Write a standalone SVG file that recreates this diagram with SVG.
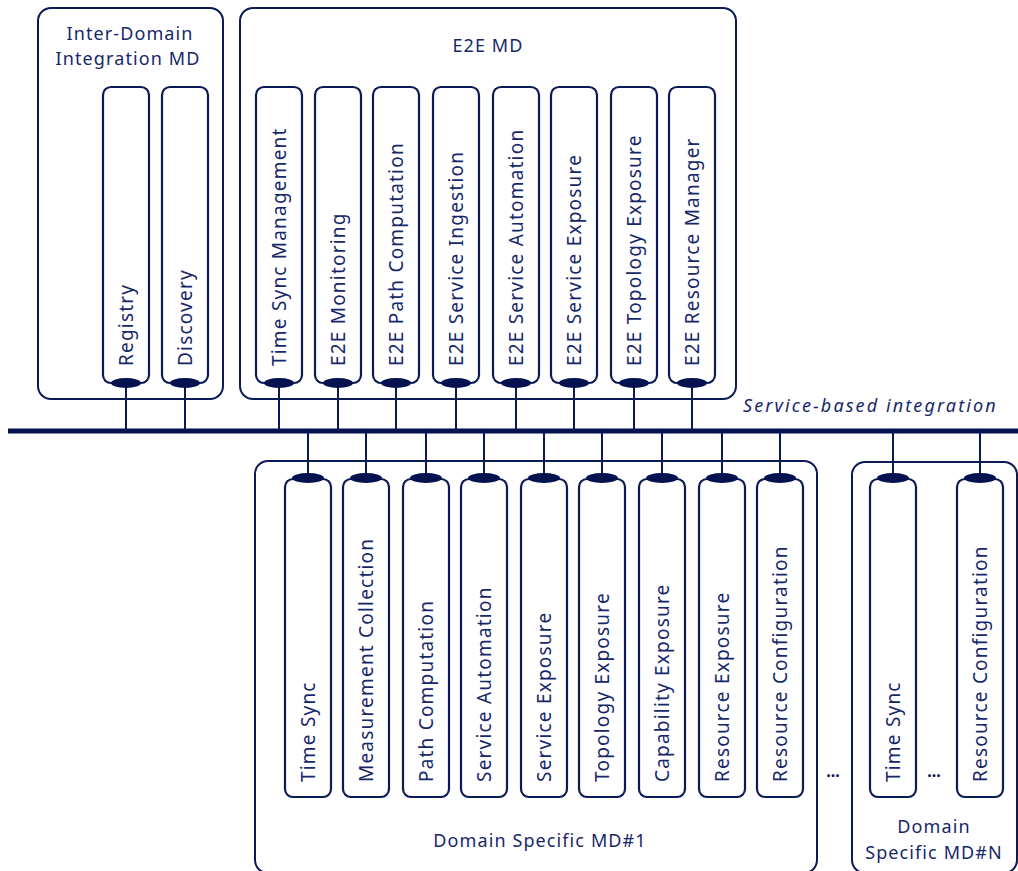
<svg xmlns="http://www.w3.org/2000/svg" width="1018" height="871" viewBox="0 0 1018 871">
  <defs>
    <style>
      .box { fill: none; stroke: #0b1a55; stroke-width: 2; }
      .pill { fill: #ffffff; stroke: #0b1a55; stroke-width: 2.2; }
      .port { fill: #04124f; stroke: none; }
      .wire { stroke: #0b1a55; stroke-width: 2; fill: none; }
      .bus { stroke: #04124f; stroke-width: 5; fill: none; }
      .lbl { font-family: "Noto Sans", "Open Sans", sans-serif; font-size: 19px; fill: #17286a; letter-spacing: 1.2px; }
      .title { font-family: "Noto Sans", "Open Sans", sans-serif; font-size: 18px; fill: #17286a; letter-spacing: 1.1px; text-anchor: middle; }
      .bus-lbl { font-family: "Noto Sans", "Open Sans", sans-serif; font-size: 18px; font-style: italic; fill: #17286a; letter-spacing: 2.1px; }
      .dots { font-family: "Noto Sans", "Open Sans", sans-serif; font-size: 16px; font-weight: bold; fill: #04124f; text-anchor: middle; }
    </style>
  </defs>

  <rect width="1018" height="871" fill="#ffffff"/>

  <!-- connectors: shared bus and service taps -->
  <g id="connectors">
    <line class="bus" x1="8" y1="431" x2="1018" y2="431"/>
    <text class="bus-lbl" x="743" y="412">Service-based integration</text>
    <!-- upper taps -->
    <line class="wire" x1="126" y1="383" x2="126" y2="431"/>
    <line class="wire" x1="185" y1="383" x2="185" y2="431"/>
    <line class="wire" x1="279" y1="383" x2="279" y2="431"/>
    <line class="wire" x1="338" y1="383" x2="338" y2="431"/>
    <line class="wire" x1="396" y1="383" x2="396" y2="431"/>
    <line class="wire" x1="456" y1="383" x2="456" y2="431"/>
    <line class="wire" x1="516" y1="383" x2="516" y2="431"/>
    <line class="wire" x1="574" y1="383" x2="574" y2="431"/>
    <line class="wire" x1="634" y1="383" x2="634" y2="431"/>
    <line class="wire" x1="692" y1="383" x2="692" y2="431"/>
    <!-- lower taps -->
    <line class="wire" x1="308" y1="431" x2="308" y2="478"/>
    <line class="wire" x1="366" y1="431" x2="366" y2="478"/>
    <line class="wire" x1="426" y1="431" x2="426" y2="478"/>
    <line class="wire" x1="484" y1="431" x2="484" y2="478"/>
    <line class="wire" x1="544" y1="431" x2="544" y2="478"/>
    <line class="wire" x1="602" y1="431" x2="602" y2="478"/>
    <line class="wire" x1="662" y1="431" x2="662" y2="478"/>
    <line class="wire" x1="722" y1="431" x2="722" y2="478"/>
    <line class="wire" x1="780" y1="431" x2="780" y2="478"/>
    <line class="wire" x1="893" y1="431" x2="893" y2="478"/>
    <line class="wire" x1="980" y1="431" x2="980" y2="478"/>
  </g>

  <!-- Inter-Domain Integration MD -->
  <g id="inter-domain">
    <rect class="box" x="38" y="8" width="185" height="391" rx="13"/>
    <text class="title" x="130" y="40">Inter-Domain</text>
    <text class="title" x="128" y="65">Integration MD</text>
    <g id="registry">
      <rect class="pill" x="103" y="87" width="46" height="296" rx="8"/>
      <ellipse class="port" cx="126" cy="383" rx="15" ry="5"/>
      <text class="lbl" transform="translate(132.5,366) rotate(-90)">Registry</text>
    </g>
    <g id="discovery">
      <rect class="pill" x="162" y="87" width="46" height="296" rx="8"/>
      <ellipse class="port" cx="185" cy="383" rx="15" ry="5"/>
      <text class="lbl" transform="translate(191.5,366) rotate(-90)">Discovery</text>
    </g>
  </g>

  <!-- E2E MD -->
  <g id="e2e-md">
    <rect class="box" x="240" y="8" width="496" height="391" rx="13"/>
    <text class="title" x="488" y="52">E2E MD</text>
    <g id="time-sync-mgmt">
      <rect class="pill" x="256" y="87" width="46" height="296" rx="8"/>
      <ellipse class="port" cx="279" cy="383" rx="15" ry="5"/>
      <text class="lbl" transform="translate(285.5,366) rotate(-90)">Time Sync Management</text>
    </g>
    <g id="e2e-monitoring">
      <rect class="pill" x="315" y="87" width="46" height="296" rx="8"/>
      <ellipse class="port" cx="338" cy="383" rx="15" ry="5"/>
      <text class="lbl" transform="translate(344.5,366) rotate(-90)">E2E Monitoring</text>
    </g>
    <g id="e2e-path">
      <rect class="pill" x="373" y="87" width="46" height="296" rx="8"/>
      <ellipse class="port" cx="396" cy="383" rx="15" ry="5"/>
      <text class="lbl" transform="translate(402.5,366) rotate(-90)">E2E Path Computation</text>
    </g>
    <g id="e2e-ingestion">
      <rect class="pill" x="433" y="87" width="46" height="296" rx="8"/>
      <ellipse class="port" cx="456" cy="383" rx="15" ry="5"/>
      <text class="lbl" transform="translate(462.5,366) rotate(-90)">E2E Service Ingestion</text>
    </g>
    <g id="e2e-automation">
      <rect class="pill" x="493" y="87" width="46" height="296" rx="8"/>
      <ellipse class="port" cx="516" cy="383" rx="15" ry="5"/>
      <text class="lbl" transform="translate(522.5,366) rotate(-90)">E2E Service Automation</text>
    </g>
    <g id="e2e-service-exposure">
      <rect class="pill" x="551" y="87" width="46" height="296" rx="8"/>
      <ellipse class="port" cx="574" cy="383" rx="15" ry="5"/>
      <text class="lbl" transform="translate(580.5,366) rotate(-90)">E2E Service Exposure</text>
    </g>
    <g id="e2e-topology">
      <rect class="pill" x="611" y="87" width="46" height="296" rx="8"/>
      <ellipse class="port" cx="634" cy="383" rx="15" ry="5"/>
      <text class="lbl" transform="translate(640.5,366) rotate(-90)">E2E Topology Exposure</text>
    </g>
    <g id="e2e-resource">
      <rect class="pill" x="669" y="87" width="46" height="296" rx="8"/>
      <ellipse class="port" cx="692" cy="383" rx="15" ry="5"/>
      <text class="lbl" transform="translate(698.5,366) rotate(-90)">E2E Resource Manager</text>
    </g>
  </g>

  <!-- Domain Specific MD#1 -->
  <g id="ds-md-1">
    <rect class="box" x="255" y="461" width="562" height="412" rx="13"/>
    <text class="title" x="540" y="847">Domain Specific MD#1</text>
    <g id="ds1-time-sync">
      <rect class="pill" x="285" y="479" width="46" height="318" rx="8"/>
      <ellipse class="port" cx="308" cy="478" rx="16" ry="5"/>
      <text class="lbl" transform="translate(314.5,782) rotate(-90)">Time Sync</text>
    </g>
    <g id="ds1-measurement">
      <rect class="pill" x="343" y="479" width="46" height="318" rx="8"/>
      <ellipse class="port" cx="366" cy="478" rx="16" ry="5"/>
      <text class="lbl" transform="translate(372.5,782) rotate(-90)">Measurement Collection</text>
    </g>
    <g id="ds1-path">
      <rect class="pill" x="403" y="479" width="46" height="318" rx="8"/>
      <ellipse class="port" cx="426" cy="478" rx="16" ry="5"/>
      <text class="lbl" transform="translate(432.5,782) rotate(-90)">Path Computation</text>
    </g>
    <g id="ds1-automation">
      <rect class="pill" x="461" y="479" width="46" height="318" rx="8"/>
      <ellipse class="port" cx="484" cy="478" rx="16" ry="5"/>
      <text class="lbl" transform="translate(490.5,782) rotate(-90)">Service Automation</text>
    </g>
    <g id="ds1-service-exposure">
      <rect class="pill" x="521" y="479" width="46" height="318" rx="8"/>
      <ellipse class="port" cx="544" cy="478" rx="16" ry="5"/>
      <text class="lbl" transform="translate(550.5,782) rotate(-90)">Service Exposure</text>
    </g>
    <g id="ds1-topology">
      <rect class="pill" x="579" y="479" width="46" height="318" rx="8"/>
      <ellipse class="port" cx="602" cy="478" rx="16" ry="5"/>
      <text class="lbl" transform="translate(608.5,782) rotate(-90)">Topology Exposure</text>
    </g>
    <g id="ds1-capability">
      <rect class="pill" x="639" y="479" width="46" height="318" rx="8"/>
      <ellipse class="port" cx="662" cy="478" rx="16" ry="5"/>
      <text class="lbl" transform="translate(668.5,782) rotate(-90)">Capability Exposure</text>
    </g>
    <g id="ds1-resource-exposure">
      <rect class="pill" x="699" y="479" width="46" height="318" rx="8"/>
      <ellipse class="port" cx="722" cy="478" rx="16" ry="5"/>
      <text class="lbl" transform="translate(728.5,782) rotate(-90)">Resource Exposure</text>
    </g>
    <g id="ds1-resource-config">
      <rect class="pill" x="757" y="479" width="46" height="318" rx="8"/>
      <ellipse class="port" cx="780" cy="478" rx="16" ry="5"/>
      <text class="lbl" transform="translate(786.5,782) rotate(-90)">Resource Configuration</text>
    </g>
  </g>

  <text class="dots" x="833" y="777">...</text>

  <!-- Domain Specific MD#N -->
  <g id="ds-md-n">
    <rect class="box" x="852" y="462" width="165" height="411" rx="13"/>
    <text class="title" x="934" y="833">Domain</text>
    <text class="title" x="934" y="859">Specific MD#N</text>
    <g id="dsn-time-sync">
      <rect class="pill" x="870" y="479" width="46" height="318" rx="8"/>
      <ellipse class="port" cx="893" cy="478" rx="16" ry="5"/>
      <text class="lbl" transform="translate(899.5,782) rotate(-90)">Time Sync</text>
    </g>
    <text class="dots" x="934" y="777">...</text>
    <g id="dsn-resource-config">
      <rect class="pill" x="957" y="479" width="46" height="318" rx="8"/>
      <ellipse class="port" cx="980" cy="478" rx="16" ry="5"/>
      <text class="lbl" transform="translate(986.5,782) rotate(-90)">Resource Configuration</text>
    </g>
  </g>
</svg>
